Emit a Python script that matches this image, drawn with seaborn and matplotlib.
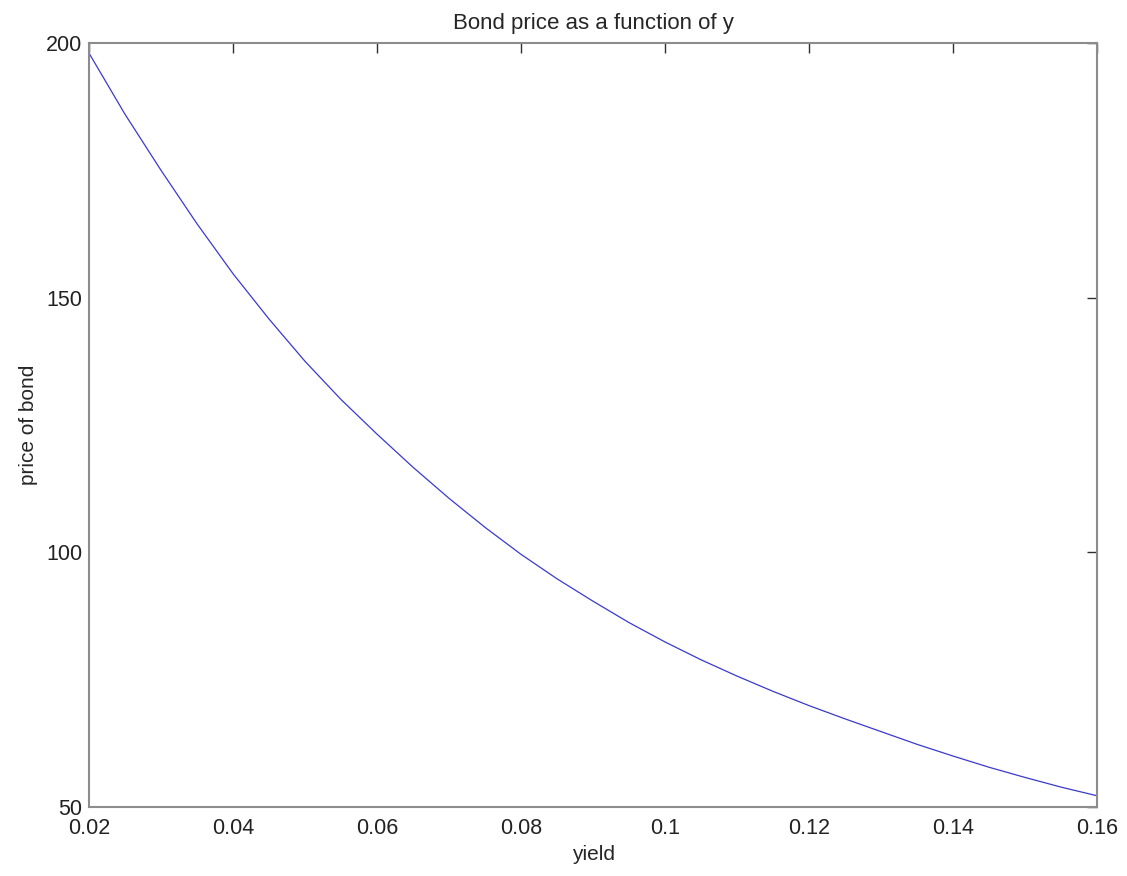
import numpy as np
import pandas as pd
import matplotlib
matplotlib.use("Agg")
import matplotlib.pyplot as plt
import seaborn as sns

# values
yields = [0.02, 0.025, 0.03, 0.035, 0.04, 0.045, 0.05, 0.055, 0.06, 0.065,
          0.07, 0.075, 0.08, 0.085, 0.09, 0.095, 0.10, 0.105, 0.11, 0.115,
          0.12, 0.125, 0.13, 0.135, 0.14, 0.145, 0.15, 0.155, 0.16]
prices = [198.0, 186.0, 175.0, 164.5, 154.7, 145.8, 137.5, 130.0, 123.2, 116.7,
          110.6, 104.9, 99.6, 94.8, 90.4, 86.2, 82.4, 78.9, 75.7, 72.7,
          69.9, 67.3, 64.8, 62.3, 60.0, 57.8, 55.8, 53.9, 52.2]
xticks = [0.02, 0.04, 0.06, 0.08, 0.1, 0.12, 0.14, 0.16]
xtick_labels = ["0.02", "0.04", "0.06", "0.08", "0.1", "0.12", "0.14", "0.16"]
yticks = [50, 100, 150, 200]

df = pd.DataFrame({"yield": yields, "price": prices})

sns.set_style("white")
plt.rcParams['font.family'] = ['Liberation Sans', 'DejaVu Sans']

fig = plt.figure(figsize=(11.27, 8.76), dpi=100)
ax = fig.add_axes([0.079, 0.0788, 0.8944, 0.8721])

sns.lineplot(data=df, x="yield", y="price", ax=ax, color="#3a3ad0", linewidth=0.9)

ax.set_xlim(0.02, 0.16)
ax.set_ylim(50, 200)
ax.set_xticks(xticks)
ax.set_xticklabels(xtick_labels)
ax.set_yticks(yticks)

ax.tick_params(direction="in", length=7, width=1.0, color="#303030",
               top=True, right=True, labelsize=15.5, labelcolor="#222222")
ax.tick_params(axis="x", pad=8)
ax.tick_params(axis="y", pad=5)
for s in ax.spines.values():
    s.set_color("#8c8c8c")
    s.set_linewidth(1.5)

ax.set_title("Bond price as a function of y", fontsize=16, pad=10)
ax.set_xlabel("yield", fontsize=15, labelpad=4)
ax.set_ylabel("price of bond", fontsize=15, labelpad=6)

fig.savefig("out.png", dpi=100)
